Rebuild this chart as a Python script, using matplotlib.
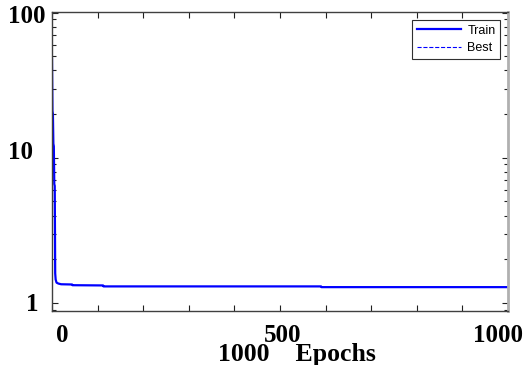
import matplotlib
matplotlib.use('Agg')
import matplotlib.pyplot as plt
import matplotlib.transforms as mtransforms
from matplotlib.ticker import MultipleLocator, FixedLocator, LogLocator, NullFormatter

# training performance
epochs = [0, 1, 2, 3, 4, 5, 6, 7, 8, 10, 14, 20, 44, 45, 112, 113, 590, 591, 1000]
train_loss = [48, 21, 20, 12.5, 12, 6.6, 6.4, 1.6, 1.45, 1.38, 1.36, 1.345, 1.34, 1.325,
              1.32, 1.30, 1.30, 1.285, 1.285]
best_epoch = [1000]
best_loss = [1.285]

x_ticks = [0, 500, 1000]
x_tick_labels = ['0', '500', '1000']
y_ticks = [1, 10, 100]
y_tick_labels = ['1', '10', '100']

fig = plt.figure(figsize=(5.26, 3.65), dpi=100)
ax = fig.add_axes([52 / 526, 1 - 311 / 365, 456 / 526, 299 / 365])

ax.plot(epochs, train_loss, color='#0000ff', lw=1.6, label='Train')
ax.plot(best_epoch, best_loss, color='#0000ff', lw=0.8, ls='--', label='Best')

ax.set_yscale('log')
ax.set_xlim(0, 1000)
ax.set_ylim(0.88, 101)

ax.xaxis.set_major_locator(MultipleLocator(100))
ax.yaxis.set_major_locator(FixedLocator(y_ticks))
ax.yaxis.set_minor_locator(LogLocator(base=10, subs=range(2, 10)))
ax.yaxis.set_minor_formatter(NullFormatter())
ax.set_xticklabels([])
ax.set_yticklabels([])

ax.tick_params(which='both', direction='in', top=True, right=True, color='#202020', width=0.8)
ax.tick_params(which='major', length=4)
ax.tick_params(which='minor', length=3)

# tick labels sit a bit off their ticks in the original, so place them by hand
serif = dict(family='Liberation Serif', weight='bold', size=18)
x_shift = {0: 10, 500: 3, 1000: -10}
for v, s in zip(x_ticks, x_tick_labels):
    tr = mtransforms.offset_copy(ax.get_xaxis_transform(), fig=fig, x=x_shift[v], y=-25, units='dots')
    ax.text(v, 0, s, transform=tr, ha='center', va='center', **serif)

y_shift = {1: (-14, -2), 10: (-19, 5), 100: (-7, -4)}
for v, s in zip(y_ticks, y_tick_labels):
    dx, dy = y_shift[v]
    tr = mtransforms.offset_copy(ax.get_yaxis_transform(), fig=fig, x=dx, y=dy, units='dots')
    ax.text(0, v, s, transform=tr, ha='right', va='center', **serif)

for sp in ax.spines.values():
    sp.set_color('#404040')
    sp.set_linewidth(1.0)
ax.spines['right'].set_color('#b0b0b0')
ax.spines['right'].set_linewidth(2)

fig.text(376 / 526, 1 - 354 / 365, '1000    Epochs', ha='right', va='center',
         family='Liberation Serif', weight='bold', size=18.5)

leg = ax.legend(loc='upper right', prop={'family': 'Liberation Sans', 'size': 9},
                fancybox=False, framealpha=1, edgecolor='#303030',
                handlelength=3.5, borderaxespad=0.6, labelspacing=0.45, borderpad=0.4,
                handletextpad=0.5)
leg.get_frame().set_linewidth(0.8)

fig.savefig('out.png', dpi=100, facecolor='white')
